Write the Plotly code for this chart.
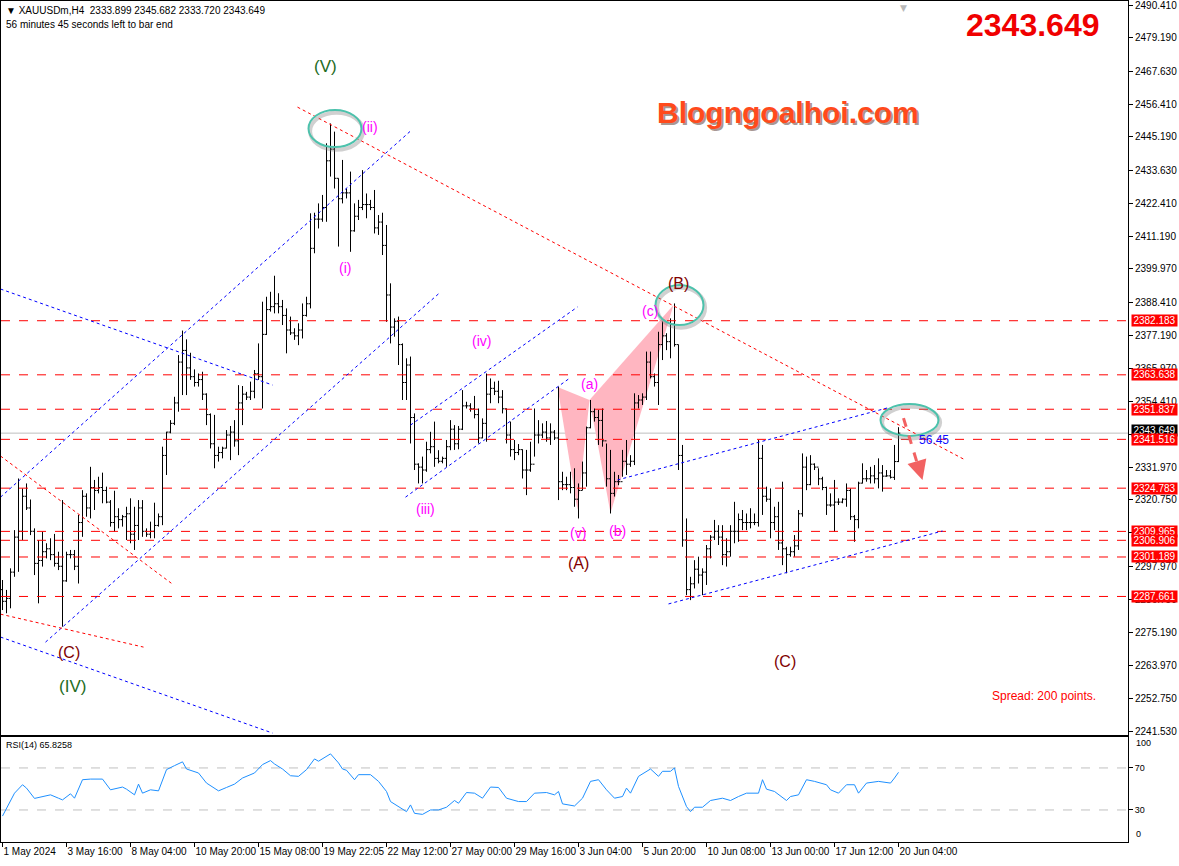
import plotly.graph_objects as go

# ---------------- data (XAUUSDm, H4) ----------------
HIGH = [
    2293.3, 2289.9, 2297.3, 2310.4, 2328.1, 2324.7, 2326.4, 2320.9, 2311.0, 2307.0,
    2309.9, 2305.9, 2307.6, 2309.1, 2303.0, 2320.7, 2303.0, 2303.6, 2303.6, 2315.6,
    2324.1, 2323.0, 2332.1, 2327.6, 2328.7, 2330.1, 2325.3, 2320.7, 2323.9, 2317.9,
    2315.6, 2318.4, 2321.3, 2318.4, 2320.7, 2320.7, 2311.0, 2313.3, 2319.8, 2316.1,
    2339.0, 2344.1, 2348.1, 2356.1, 2370.4, 2378.8, 2375.8, 2371.2, 2365.5, 2364.1,
    2364.7, 2357.3, 2350.4, 2349.9, 2339.0, 2339.0, 2344.7, 2346.1, 2348.1, 2360.1,
    2359.8, 2357.8, 2361.3, 2365.3, 2374.4, 2388.7, 2390.4, 2392.1, 2397.6, 2391.6,
    2389.3, 2386.4, 2383.6, 2379.6, 2381.3, 2388.1, 2390.4, 2419.0, 2419.2, 2422.4,
    2425.3, 2443.0, 2449.8, 2447.0, 2431.0, 2437.3, 2427.5, 2433.3, 2422.4, 2423.6,
    2433.8, 2425.8, 2423.6, 2427.0, 2418.4, 2419.2, 2415.0, 2395.0, 2383.0, 2383.6,
    2374.4, 2369.3, 2369.9, 2350.4, 2333.3, 2335.6, 2340.7, 2344.1, 2347.6, 2337.8,
    2335.6, 2341.3, 2348.1, 2346.4, 2346.1, 2358.4, 2354.4, 2353.9, 2356.4, 2352.1,
    2348.7, 2364.1, 2362.4, 2361.3, 2361.6, 2358.4, 2352.1, 2347.6, 2341.3, 2339.9,
    2338.1, 2337.9, 2340.7, 2352.1, 2348.1, 2347.0, 2347.8, 2347.0, 2344.7, 2359.6,
    2330.4, 2328.7, 2330.4, 2331.6, 2326.4, 2333.9, 2345.9, 2355.0, 2352.1, 2351.6,
    2352.1, 2340.1, 2337.9, 2330.4, 2329.3, 2337.9, 2341.3, 2336.1, 2357.3, 2356.7,
    2357.3, 2371.6, 2371.6, 2364.1, 2378.4, 2381.9, 2377.9, 2383.0, 2388.1, 2374.0,
    2339.6, 2314.4, 2294.4, 2300.1, 2301.3, 2297.3, 2305.3, 2308.7, 2313.9, 2312.1,
    2312.1, 2307.6, 2312.1, 2320.1, 2316.1, 2317.3, 2316.1, 2317.9, 2316.1, 2341.3,
    2339.6, 2325.3, 2324.7, 2318.4, 2320.1, 2327.0, 2304.7, 2304.7, 2308.7, 2317.3,
    2336.7, 2335.6, 2336.1, 2333.3, 2331.6, 2328.7, 2325.3, 2323.0, 2327.6, 2321.3,
    2321.3, 2326.4, 2324.7, 2315.6, 2327.0, 2333.3, 2331.0, 2332.1, 2332.7, 2335.0,
    2332.7, 2331.0, 2331.0, 2339.6, 2345.682,
]
LOW = [
    2283.0, 2281.9, 2283.6, 2294.4, 2296.1, 2307.0, 2317.3, 2308.7, 2295.0, 2285.3,
    2297.9, 2300.7, 2300.1, 2297.9, 2296.7, 2277.3, 2292.7, 2300.7, 2296.7, 2292.1,
    2308.1, 2315.0, 2314.4, 2317.3, 2323.0, 2319.6, 2319.6, 2311.6, 2309.9, 2311.0,
    2311.6, 2307.0, 2305.9, 2303.6, 2307.0, 2308.1, 2308.1, 2307.6, 2307.6, 2311.6,
    2312.1, 2329.3, 2343.6, 2346.4, 2351.0, 2356.7, 2356.7, 2361.9, 2359.6, 2359.6,
    2355.0, 2346.4, 2338.4, 2331.6, 2333.9, 2335.0, 2338.4, 2334.4, 2339.0, 2336.1,
    2346.4, 2355.0, 2355.0, 2355.6, 2361.9, 2352.1, 2377.3, 2385.3, 2384.7, 2384.7,
    2380.7, 2371.0, 2377.3, 2375.6, 2373.8, 2376.1, 2383.6, 2386.4, 2405.3, 2413.8,
    2416.1, 2416.1, 2431.6, 2427.5, 2407.6, 2422.4, 2424.1, 2405.8, 2412.7, 2416.7,
    2420.1, 2417.3, 2420.1, 2412.1, 2411.6, 2404.7, 2381.8, 2374.4, 2376.7, 2367.0,
    2355.0, 2355.0, 2340.1, 2331.0, 2326.4, 2326.4, 2330.4, 2336.7, 2332.1, 2333.3,
    2333.3, 2332.1, 2337.8, 2337.9, 2338.1, 2344.7, 2352.1, 2351.0, 2348.7, 2340.1,
    2341.9, 2340.7, 2353.9, 2356.7, 2353.9, 2350.4, 2340.1, 2335.6, 2334.4, 2336.1,
    2328.1, 2322.4, 2330.4, 2335.6, 2340.1, 2341.9, 2340.7, 2339.6, 2341.3, 2320.7,
    2324.1, 2324.1, 2323.0, 2318.4, 2314.4, 2324.1, 2325.3, 2345.3, 2347.6, 2339.6,
    2339.0, 2325.3, 2316.1, 2321.9, 2325.8, 2328.7, 2329.3, 2332.1, 2332.7, 2352.1,
    2353.3, 2355.0, 2362.4, 2359.6, 2353.3, 2368.7, 2372.1, 2369.3, 2373.3, 2331.0,
    2304.7, 2288.1, 2286.4, 2290.4, 2292.1, 2288.1, 2291.6, 2300.7, 2307.0, 2305.3,
    2298.4, 2297.9, 2301.3, 2305.9, 2306.4, 2310.4, 2310.4, 2311.0, 2312.1, 2311.6,
    2315.6, 2320.1, 2307.6, 2310.4, 2303.6, 2298.4, 2295.6, 2301.3, 2301.3, 2303.6,
    2315.0, 2324.1, 2325.8, 2331.0, 2325.8, 2324.1, 2315.6, 2318.4, 2309.9, 2319.0,
    2319.6, 2318.4, 2313.9, 2306.4, 2311.0, 2326.4, 2327.0, 2326.4, 2326.4, 2324.7,
    2323.6, 2328.7, 2328.1, 2327.6, 2333.720,
]
OPEN = [
    2290, 2286, 2287, 2296, 2308, 2310, 2322, 2318, 2310, 2299,
    2300, 2303, 2304, 2302, 2299, 2298, 2293, 2302, 2302, 2298,
    2313, 2322, 2318, 2325, 2324, 2325, 2324, 2320, 2313, 2315,
    2314, 2315, 2316, 2309, 2312, 2318, 2310, 2309, 2310, 2312,
    2315, 2336, 2344, 2347, 2354, 2368, 2372, 2366, 2363, 2361,
    2362, 2357, 2350, 2340, 2336, 2337, 2338.5, 2343, 2344, 2341,
    2354, 2357, 2356, 2358, 2364, 2363, 2377.5, 2386, 2387, 2388,
    2387, 2384, 2379, 2378, 2377, 2379, 2384, 2388, 2407, 2417,
    2417, 2421, 2437, 2441, 2431, 2424, 2426, 2426, 2413, 2418,
    2421, 2422, 2422, 2421, 2414, 2416, 2408, 2391, 2380, 2382,
    2374, 2361, 2367, 2349, 2333, 2332, 2331, 2338, 2339, 2335,
    2334, 2335, 2339, 2345, 2340, 2345, 2353, 2353, 2352, 2350,
    2342, 2347, 2357, 2359, 2358, 2356, 2352, 2343, 2338, 2337,
    2338, 2331, 2331, 2333, 2343, 2343, 2344, 2342, 2344, 2342,
    2327, 2326, 2326, 2325, 2321, 2324, 2330, 2345.5, 2351, 2349,
    2348, 2341, 2328, 2323, 2327, 2327, 2334, 2333, 2334, 2354,
    2355, 2356, 2368, 2363, 2361, 2374, 2377, 2375, 2381, 2374,
    2336, 2307, 2290, 2292, 2297, 2295, 2296, 2304, 2308, 2310,
    2308, 2302, 2303, 2310, 2310, 2314, 2313, 2313, 2313, 2313,
    2335, 2322, 2321, 2313, 2315, 2306, 2304, 2302, 2303, 2305,
    2316, 2332, 2326, 2333, 2332, 2328, 2325, 2319, 2319, 2320,
    2320, 2321, 2324, 2315, 2314, 2326.5, 2328, 2328, 2329, 2328,
    2330, 2328.9, 2329, 2328.5, 2333.899,
]
CLOSE = [
    2286, 2287, 2296, 2308, 2310, 2322, 2318, 2310, 2299, 2300,
    2303, 2304, 2302, 2299, 2298, 2293, 2302, 2302, 2298, 2313,
    2322, 2318, 2325, 2324, 2325, 2324, 2320, 2313, 2315, 2314,
    2315, 2316, 2309, 2312, 2318, 2310, 2309, 2310, 2312, 2315,
    2336, 2344, 2347, 2354, 2368, 2372, 2366, 2363, 2361, 2362,
    2357, 2350, 2340, 2336, 2337, 2338.5, 2343, 2344, 2341, 2354,
    2357, 2356, 2358, 2364, 2363, 2377.5, 2386, 2387, 2388, 2387,
    2384, 2379, 2378, 2377, 2379, 2384, 2388, 2407, 2417, 2417,
    2421, 2437, 2441, 2431, 2424, 2426, 2426, 2413, 2418, 2421,
    2422, 2422, 2421, 2414, 2416, 2408, 2391, 2380, 2382, 2374,
    2361, 2367, 2349, 2333, 2332, 2331, 2338, 2339, 2335, 2334,
    2335, 2339, 2345, 2340, 2345, 2353, 2353, 2352, 2350, 2342,
    2347, 2357, 2359, 2358, 2356, 2352, 2343, 2338, 2337, 2338,
    2331, 2331, 2333, 2343, 2343, 2344, 2342, 2344, 2342, 2327,
    2326, 2326, 2325, 2321, 2324, 2330, 2345.5, 2351, 2349, 2348,
    2341, 2328, 2323, 2327, 2327, 2334, 2333, 2334, 2354, 2355,
    2356, 2368, 2363, 2361, 2374, 2377, 2375, 2381, 2374, 2336,
    2307, 2290, 2292, 2297, 2295, 2296, 2304, 2308, 2310, 2308,
    2302, 2303, 2310, 2310, 2314, 2313, 2313, 2313, 2313, 2335,
    2322, 2321, 2313, 2315, 2306, 2304, 2302, 2303, 2305, 2316,
    2332, 2326, 2333, 2332, 2328, 2325, 2319, 2319, 2320, 2320,
    2321, 2324, 2315, 2314, 2326.5, 2328, 2328, 2329, 2328, 2330,
    2328.9, 2329, 2328.5, 2333.9, 2343.649,
]

X_TICK_BARS = [0, 16, 32, 48, 64, 80, 96, 112, 128, 144, 160, 176, 192, 208, 224]
X_TICK_LABELS = ["1 May 2024", "3 May 16:00", "8 May 04:00", "10 May 20:00", "15 May 08:00",
                 "19 May 22:05", "22 May 12:00", "27 May 00:00", "29 May 16:00", "3 Jun 04:00",
                 "5 Jun 20:00", "10 Jun 08:00", "13 Jun 00:00", "17 Jun 12:00", "20 Jun 04:00"]
Y_TICKS = [2490.410, 2479.190, 2467.630, 2456.410, 2445.190, 2433.630, 2422.410, 2411.190,
           2399.970, 2388.410, 2377.190, 2365.970, 2354.410, 2343.190, 2331.970, 2320.750,
           2309.530, 2297.970, 2286.750, 2275.190, 2263.970, 2252.750, 2241.530]
LEVELS = [2382.183, 2363.638, 2351.837, 2341.516, 2324.783, 2309.965, 2306.906, 2301.189, 2287.661]
CURRENT_PRICE = 2343.649

RSI_X = [0, 1, 3, 5, 6, 8, 10, 12, 14, 15,
         17, 18, 20, 22, 25, 27, 30, 31, 33, 34,
         35, 37, 39, 41, 43, 45, 46, 49, 51, 54,
         56, 58, 60, 63, 65, 67, 68, 70, 72, 74,
         76, 78, 79, 81, 82, 84, 85, 86, 88, 89,
         92, 94, 96, 97, 99, 101, 102, 103, 105, 107,
         109, 111, 113, 114, 116, 118, 120, 122, 124, 126,
         129, 131, 133, 136, 138, 139, 140, 143, 145, 147,
         149, 151, 153, 155, 156, 157, 159, 161, 162, 164,
         165, 167, 168, 169, 171, 172, 173, 175, 177, 180,
         182, 184, 186, 189, 190, 191, 193, 196, 197, 199,
         201, 203, 206, 207, 209, 211, 213, 214, 216, 219,
         222, 223, 224]
RSI_V = [24.2, 31.6, 46, 54, 50.8, 41, 42.8, 44.4, 41.2, 39.6,
         45.4, 41.2, 58.8, 59.4, 59.4, 49.2, 51.8, 49.8, 44.4, 54.6,
         46, 49.2, 48.2, 68.4, 72.2, 75.8, 69, 65.2, 55.6, 48.2,
         51.4, 54.6, 60.4, 65.2, 73.2, 77, 73.8, 69, 62.6, 62,
         68.4, 78.6, 76.4, 81.2, 83.4, 74.8, 69, 67.8, 58.8, 63.6,
         63.6, 57.2, 47.6, 38, 33.2, 28.4, 34.8, 26.8, 25.8, 30,
         30, 32.6, 39, 36.4, 46.6, 46, 41.2, 51.8, 51.4, 41.2,
         38, 38, 46, 46.6, 44.4, 47.6, 35.8, 33.8, 41.2, 57.2,
         58.8, 49.2, 41.2, 42.8, 50.8, 46, 62, 66.8, 69, 62,
         66.8, 66.8, 70, 52.4, 33.2, 28.4, 32.6, 32.6, 39, 41.2,
         39, 42.8, 46, 46, 58.8, 49.8, 47.6, 39, 42.8, 44.4,
         58.8, 57.2, 54, 49.2, 46, 54, 54, 46, 55.6, 57.2,
         55.6, 60.4, 65.8258]
RSI_LEVELS = [70, 30]

# trendlines: (bar0, price0, bar1, price1, colour)
TRENDLINES = [
    (-0.5, 2321.7, 102.0, 2447.2, "#0000FF"),
    (10.75, 2272.0, 109.5, 2392.0, "#0000FF"),
    (-0.5, 2393.05, 67.5, 2360.14, "#0000FF"),
    (-0.5, 2273.75, 67.5, 2240.84, "#0000FF"),
    (-0.5, 2335.8, 42.5, 2291.9, "#FF0000"),
    (-0.5, 2281.6, 35.25, 2270.3, "#FF0000"),
    (73.75, 2455.4, 240.75, 2334.4, "#FF0000"),
    (102.0, 2346.4, 143.75, 2386.9, "#0000FF"),
    (100.75, 2321.7, 141.5, 2362.2, "#0000FF"),
    (153.75, 2327.6, 221.25, 2352.3, "#0000FF"),
    (166.5, 2285.1, 235.0, 2310.1, "#0000FF"),
]
# harmonic-pattern triangles: three (bar, price) vertices each
TRIANGLES = [
    [(138.75, 2359.45), (146.75, 2355.0), (143.75, 2317.3)],
    [(146.75, 2355.0), (152.0, 2316.3), (167.75, 2387.6)],
]
# highlight ellipses: (bar0, bar1, price0, price1)
ELLIPSES = [
    (76.5, 89.75, 2441.7, 2454.4),
    (163.25, 175.25, 2380.7, 2394.4),
    (219.5, 234.0, 2342.7, 2353.6),
]
GREEN, MAROON, MAGENTA = "#236B23", "#800000", "#FF00FF"
WAVE_LABELS = [
    ("(V)", 80.75, 2469.2, GREEN, 17),
    ("(IV)", 17.5, 2256.9, GREEN, 17),
    ("(C)", 16.5, 2268.6, MAROON, 16),
    ("(ii)", 91.75, 2448.6, MAGENTA, 14),
    ("(i)", 85.5, 2400.2, MAGENTA, 14),
    ("(iv)", 119.75, 2375.2, MAGENTA, 14),
    ("(iii)", 105.75, 2317.6, MAGENTA, 14),
    ("(a)", 146.75, 2360.5, MAGENTA, 14),
    ("(c)", 161.75, 2385.5, MAGENTA, 14),
    ("(v)", 143.75, 2309.4, MAGENTA, 14),
    ("(b)", 153.75, 2310.1, MAGENTA, 14),
    ("(A)", 144.0, 2298.8, MAROON, 16),
    ("(B)", 169.0, 2395.1, MAROON, 16),
    ("(C)", 195.5, 2265.5, MAROON, 16),
]
ARROW = (225.25, 2348.8, 230.0, 2327.6)
RSI_TEXT = "RSI(14) 65.8258"

FONT = "Liberation Sans"
X_RANGE = [-0.375, 281.375]

bars = list(range(len(HIGH)))

fig = go.Figure()
fig.add_trace(go.Ohlc(
    x=bars, open=OPEN, high=HIGH, low=LOW, close=CLOSE,
    increasing=dict(line=dict(color="black", width=1)),
    decreasing=dict(line=dict(color="black", width=1)),
    tickwidth=0.45, hoverinfo="skip", xaxis="x", yaxis="y",
))
fig.add_trace(go.Scatter(
    x=RSI_X, y=RSI_V, mode="lines", line=dict(color="#1E90FF", width=1),
    xaxis="x2", yaxis="y2", hoverinfo="skip",
))

shapes = []
for tri in TRIANGLES:
    path = "M {} {} L {} {} L {} {} Z".format(tri[0][0], tri[0][1], tri[1][0], tri[1][1], tri[2][0], tri[2][1])
    shapes.append(dict(type="path", path=path, xref="x", yref="y", fillcolor="#FFB6C1",
                       line=dict(width=0), layer="below"))
for lv in LEVELS:
    shapes.append(dict(type="line", xref="paper", x0=0, x1=1, yref="y", y0=lv, y1=lv,
                       line=dict(color="#FF0000", width=1, dash="dash"), layer="above"))
shapes.append(dict(type="line", xref="paper", x0=0, x1=1, yref="y", y0=CURRENT_PRICE, y1=CURRENT_PRICE,
                   line=dict(color="#BEBEBE", width=1), layer="below"))
for x0, y0, x1, y1, col in TRENDLINES:
    shapes.append(dict(type="line", xref="x", yref="y", x0=x0, y0=y0, x1=x1, y1=y1,
                       line=dict(color=col, width=1, dash="dot"), layer="above"))
for x0, x1, y0, y1 in ELLIPSES:
    shapes.append(dict(type="circle", xref="x", yref="y", x0=x0 + 0.4, x1=x1 + 0.4, y0=y0 - 0.9, y1=y1 - 0.9,
                       line=dict(color="rgba(120,120,120,0.35)", width=4), layer="above"))
    shapes.append(dict(type="circle", xref="x", yref="y", x0=x0, x1=x1, y0=y0, y1=y1,
                       line=dict(color="#4CC2AC", width=2), layer="above"))
for lv in RSI_LEVELS:
    shapes.append(dict(type="line", xref="paper", x0=0, x1=1, yref="y2", y0=lv, y1=lv,
                       line=dict(color="#C0C0C0", width=1, dash="dash"), layer="below"))
shapes.append(dict(type="line", xref="x", yref="y", x0=ARROW[0], y0=ARROW[1],
                   x1=ARROW[2] - 0.6, y1=ARROW[3] + 2.5,
                   line=dict(color="#F26262", width=3, dash="dash"), layer="above"))

annotations = []
annotations.append(dict(text="▼ XAUUSDm,H4  2333.899 2345.682 2333.720 2343.649", xref="paper", yref="paper",
                        x=0, y=1, xanchor="left", yanchor="top", xshift=3, yshift=-2, showarrow=False,
                        font=dict(family=FONT, size=10, color="black")))
annotations.append(dict(text="56 minutes 45 seconds left to bar end", xref="paper", yref="paper",
                        x=0, y=1, xanchor="left", yanchor="top", xshift=3, yshift=-16, showarrow=False,
                        font=dict(family=FONT, size=10, color="black")))
annotations.append(dict(text="<b>2343.649</b>", xref="paper", yref="paper", x=0.9725, y=0.972,
                        xanchor="right", yanchor="middle", xshift=4, showarrow=False,
                        font=dict(family=FONT, size=32, color="#F00000")))
annotations.append(dict(text="Spread: 200 points.", xref="paper", yref="paper", x=0.9734, y=0.1736,
                        xanchor="right", yanchor="middle", showarrow=False,
                        font=dict(family=FONT, size=12, color="#FF0000")))
annotations.append(dict(text="<b>Blogngoalhoi.com</b>", xref="x", yref="y", x=196.25, y=2453.4,
                        xshift=2, yshift=-2, showarrow=False,
                        font=dict(family=FONT, size=30, color="rgba(60,20,10,0.45)")))
annotations.append(dict(text="<b>Blogngoalhoi.com</b>", xref="x", yref="y", x=196.25, y=2453.4,
                        showarrow=False, font=dict(family=FONT, size=30, color="#FF4A1C")))
for txt, bx, py, col, sz in WAVE_LABELS:
    annotations.append(dict(text=txt, xref="x", yref="y", x=bx, y=py, showarrow=False,
                            font=dict(family=FONT, size=sz, color=col)))
annotations.append(dict(text="56.45", xref="x", yref="y", x=232.75, y=2341.3, showarrow=False,
                        font=dict(family=FONT, size=12, color="#1010FF")))
annotations.append(dict(text="", xref="x", yref="y", x=ARROW[2], y=ARROW[3], axref="x", ayref="y",
                        ax=ARROW[2] - 1.2, ay=ARROW[3] + 5.5, showarrow=True, arrowhead=2,
                        arrowsize=1.3, arrowwidth=3, arrowcolor="#F26262"))
annotations.append(dict(text="▼", xref="x", yref="paper", x=225.25, y=1, yanchor="top", showarrow=False,
                        font=dict(family="DejaVu Sans", size=9, color="#B8B8B8")))
annotations.append(dict(text="{:.3f}".format(CURRENT_PRICE), xref="paper", yref="y", x=1, y=CURRENT_PRICE,
                        xanchor="left", xshift=3, yshift=3, showarrow=False, bgcolor="black",
                        font=dict(family=FONT, size=10, color="white"), height=11, width=45, borderpad=0))
for lv in LEVELS:
    annotations.append(dict(text="{:.3f}".format(lv), xref="paper", yref="y", x=1, y=lv,
                            xanchor="left", xshift=3, showarrow=False, bgcolor="#FF0000",
                            font=dict(family=FONT, size=10, color="white"), height=11, width=45, borderpad=0))
annotations.append(dict(text=RSI_TEXT, xref="paper", yref="y2", x=0, y=99.5, xanchor="left", yanchor="top",
                        xshift=3, yshift=-1, showarrow=False, font=dict(family=FONT, size=9, color="black")))
annotations.append(dict(text="100", xref="paper", yref="y2", x=1, y=93.8, xanchor="left", xshift=6,
                        showarrow=False, font=dict(family=FONT, size=9, color="black")))
annotations.append(dict(text="0", xref="paper", yref="y2", x=1, y=7.0, xanchor="left", xshift=6,
                        showarrow=False, font=dict(family=FONT, size=9, color="black")))

axis_common = dict(showline=True, mirror=True, linecolor="black", linewidth=1,
                   showgrid=False, zeroline=False)

fig.update_layout(
    width=1179, height=866,
    margin=dict(l=1, r=51, t=1, b=24, autoexpand=False),
    paper_bgcolor="white", plot_bgcolor="white",
    showlegend=False,
    font=dict(family=FONT, size=10, color="black"),
    xaxis=dict(domain=[0, 1], range=X_RANGE, anchor="y", showticklabels=False, ticks="",
               rangeslider=dict(visible=False), **axis_common),
    xaxis2=dict(domain=[0, 1], range=X_RANGE, anchor="y2", tickmode="array",
                tickvals=X_TICK_BARS, ticktext=X_TICK_LABELS, ticks="outside", ticklen=4,
                tickcolor="black", ticklabelposition="outside right", tickangle=0,
                tickfont=dict(family=FONT, size=10, color="black"), **axis_common),
    yaxis=dict(domain=[0.1272, 1], range=[2240.16, 2491.78], anchor="x", side="right",
               tickmode="array", tickvals=Y_TICKS, ticktext=["{:.3f}".format(v) for v in Y_TICKS],
               ticks="outside", ticklen=4, tickcolor="black", ticklabeloverflow="allow",
               tickfont=dict(family=FONT, size=10, color="black"), **axis_common),
    yaxis2=dict(domain=[0, 0.1249], range=[-0.5, 99.5], anchor="x2", side="right",
                tickmode="array", tickvals=[70, 30], ticktext=["70", "30"],
                ticks="outside", ticklen=4, tickcolor="black",
                tickfont=dict(family=FONT, size=9, color="black"), **axis_common),
    shapes=shapes,
    annotations=annotations,
)

fig.write_html("out.html", config={"displayModeBar": False},
               post_script="document.body.style.margin='0';document.body.style.padding='0';")
